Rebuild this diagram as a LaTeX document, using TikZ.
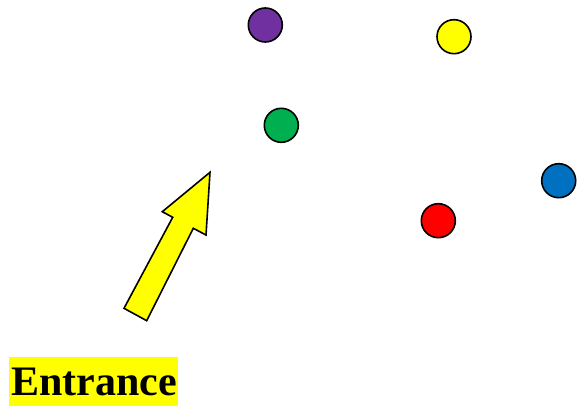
\documentclass[tikz,border=0pt]{standalone}
\usepackage{fontspec}
\setmainfont{Liberation Serif}
\definecolor{cpurple}{RGB}{112,48,160}
\definecolor{cyellow}{RGB}{255,255,0}
\definecolor{cgreen}{RGB}{0,176,80}
\definecolor{cred}{RGB}{255,0,0}
\definecolor{cblue}{RGB}{0,112,192}
\begin{document}
\begin{tikzpicture}[x=1pt,y=-1pt,
  dot/.style={circle,draw=black,line width=1.6pt,minimum size=34pt,inner sep=0pt}]
\useasboundingbox (0,0) rectangle (577,411);
\node[dot,fill=cpurple] (purple) at (265.3,25) {};
\node[dot,fill=cyellow] (yellow) at (454,36.7) {};
\node[dot,fill=cgreen] (green) at (281.3,125.3) {};
\node[dot,fill=cred] (red) at (438.3,220.7) {};
\node[dot,fill=cblue] (blue) at (558.7,180.7) {};
\draw[fill=cyellow,line width=1.6pt,line join=miter]
  (210,172.3) -- (206,235) -- (193.3,228.3) -- (146.7,320.7) -- (124,308.3)
  -- (172.7,217.3) -- (162.3,211.7) -- cycle;
\fill[cyellow] (9,357.3) rectangle (177.7,405.7);
\node[font=\bfseries\fontsize{42}{46}\selectfont,inner sep=0pt,anchor=base west] (entrance) at (11,395.7) {Entrance};
\end{tikzpicture}
\end{document}
